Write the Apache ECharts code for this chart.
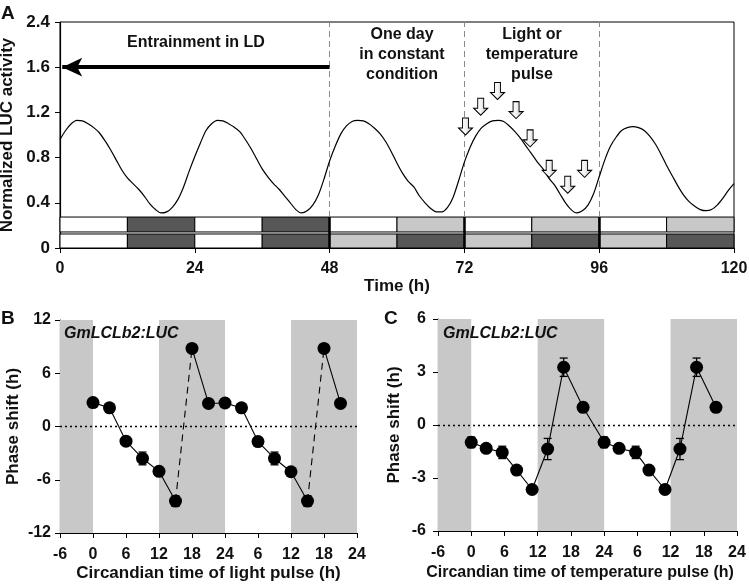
<!DOCTYPE html>
<html><head><meta charset="utf-8">
<script src="https://cdn.jsdelivr.net/npm/echarts@6/dist/echarts.min.js"></script>
<style>html,body{margin:0;padding:0;background:#fff}#c{width:749px;height:588px}</style>
</head><body><div id="c"></div>
<script>
// ---------- Panel A data ----------
const lucA = [
 0.96,1.04,1.10,1.13,1.125,1.10,1.065,1.02,0.95,0.87,0.78,0.69,0.62,0.57,0.52,0.46,0.39,0.34,0.31,0.32,0.36,0.43,0.54,0.68,
 0.81,0.93,1.04,1.10,1.13,1.125,1.10,1.07,1.03,0.96,0.88,0.79,0.70,0.63,0.57,0.52,0.46,0.40,0.34,0.31,0.33,0.38,0.47,0.61,
 0.77,0.90,1.01,1.08,1.12,1.13,1.125,1.10,1.06,1.01,0.94,0.85,0.75,0.66,0.59,0.54,0.46,0.40,0.35,0.32,0.32,0.36,0.45,0.60,
 0.76,0.89,0.99,1.06,1.10,1.125,1.13,1.12,1.08,1.03,0.97,0.90,0.83,0.76,0.70,0.62,0.56,0.48,0.40,0.34,0.31,0.33,0.38,0.48,
 0.63,0.78,0.90,0.98,1.04,1.065,1.075,1.065,1.04,0.99,0.92,0.83,0.73,0.64,0.55,0.47,0.41,0.37,0.34,0.33,0.34,0.38,0.44,0.51,
 0.57
];
const yTickLabelsA = ['0','0.4','0.8','1.2','1.6','2.4'];
const xTickLabelsA = ['0','24','48','72','96','120'];
const segStartsA = [0,12,24,36,48,60,72,84,96,108];
const lightRow = ['white','dark','white','dark','white','light','white','light','white','light'];
const tempRow  = ['white','dark','white','dark','light','dark','light','dark','light','dark'];
const phaseBoundaries = [48,72,96];
const pulseTimes = [72.2,74.9,77.9,81.2,83.7,87.1,90.4,93.4];
const pulseArrowY = [1.075,1.25,1.39,1.22,0.97,0.70,0.56,0.70];
const entrainArrow = {from:48, to:0, level:1.6};

// ---------- Panel B data ----------
const bX   = [0,3,6,9,12,15,18,21,24,27,30,33,36,39,42,45];
const bY   = [2.7,2.1,-1.65,-3.6,-5.05,-8.4,8.8,2.6,2.65,2.1,-1.7,-3.6,-5.1,-8.4,8.8,2.6];
const bErr = [0.2,0.2,0.3,0.72,0.2,0.6,0.2,0.2,0.2,0.2,0.3,0.72,0.2,0.6,0.2,0.2];
const bDashedAfter = [5,13]; // segments drawn dashed: i -> i+1

// ---------- Panel C data ----------
const cX   = [0,2.7,5.6,8.2,11.0,13.8,16.7,20.2,24,26.7,29.7,32.1,35.0,37.7,40.7,44.2];
const cY   = [-0.98,-1.32,-1.55,-2.55,-3.65,-1.36,3.27,1.0,-0.98,-1.32,-1.55,-2.55,-3.65,-1.36,3.27,1.0];
const cErr = [0.3,0.12,0.35,0.12,0.12,0.6,0.52,0.27,0.3,0.12,0.35,0.12,0.12,0.6,0.52,0.27];

const ctTickLabels = ['-6','0','6','12','18','24','6','12','18','24'];
const darkBands = [[-6,0],[12,24],[36,48]];

// ---------- styles ----------
const FONT = '"Liberation Sans", Arial, Helvetica, sans-serif';
const TXT = '#111111';
const COLORS = {white:'#ffffff', dark:'#575757', light:'#c8c8c8'};
const BAND = '#c8c8c8';
const lbl = {fontFamily:FONT, fontWeight:'bold', fontSize:16, color:TXT};

const chart = echarts.init(document.getElementById('c'));

function segs(row, y0, y1){
  return row.map((c,i)=>[segStartsA[i], segStartsA[i]+12, y0, y1, i]);
}
function rectItem(row){
  return function(params, api){
    const p0 = api.coord([api.value(0), api.value(3)]);
    const p1 = api.coord([api.value(1), api.value(2)]);
    return {type:'rect', shape:{x:p0[0], y:p0[1], width:p1[0]-p0[0], height:p1[1]-p0[1]},
      style:{fill:COLORS[row[api.value(4)]], stroke:'#000', lineWidth:1}};
  };
}
function errItem(params, api){
  const x=api.value(0), y=api.value(1), e=api.value(2);
  const top=api.coord([x,y+e]), bot=api.coord([x,y-e]);
  const w=4;
  const st={stroke:'#000', lineWidth:1.3};
  return {type:'group', children:[
    {type:'line', shape:{x1:top[0],y1:top[1],x2:bot[0],y2:bot[1]}, style:st},
    {type:'line', shape:{x1:top[0]-w,y1:top[1],x2:top[0]+w,y2:top[1]}, style:st},
    {type:'line', shape:{x1:bot[0]-w,y1:bot[1],x2:bot[0]+w,y2:bot[1]}, style:st}
  ]};
}
function axisLineStyle(){ return {onZero:false, lineStyle:{color:'#000', width:1.2}}; }
function ctAxes(gi, name, nameGap, nameStyle){
  return {
    gridIndex:gi, type:'value', min:-6, max:48, interval:6,
    axisLine:axisLineStyle(),
    axisTick:{show:true, length:5, lineStyle:{color:'#000'}},
    axisLabel:Object.assign({margin:14, formatter:(v,i)=>ctTickLabels[i]}, lbl),
    splitLine:{show:false},
    name:name, nameLocation:'middle', nameGap:nameGap,
    nameTextStyle:Object.assign({}, lbl, {fontSize:17}, nameStyle||{})
  };
}
function phaseSeries(gi, xs, ys, errs, dashedAfter){
  const out = [];
  out.push({type:'line', xAxisIndex:gi, yAxisIndex:gi, data:[], silent:true, z:1,
    markArea:{silent:true, itemStyle:{color:BAND}, data:darkBands.map(b=>[{xAxis:b[0]},{xAxis:b[1]}])},
    markLine:{silent:true, symbol:'none', label:{show:false}, lineStyle:{color:'#000', type:[2,3], width:1.3},
      data:[{yAxis:0}]}
  });
  for(let i=0;i<xs.length-1;i++){
    const dashed = dashedAfter.indexOf(i)>=0;
    out.push({type:'line', xAxisIndex:gi, yAxisIndex:gi, symbol:'none', z:3,
      lineStyle:{color:'#000', width:1.1, type: dashed?[7,5]:'solid'},
      data:[[xs[i],ys[i]],[xs[i+1],ys[i+1]]]});
  }
  out.push({type:'custom', xAxisIndex:gi, yAxisIndex:gi, z:4, renderItem:errItem,
    data:xs.map((x,i)=>[x,ys[i],errs[i]])});
  out.push({type:'scatter', xAxisIndex:gi, yAxisIndex:gi, z:5, symbol:'circle', symbolSize:13,
    itemStyle:{color:'#000', opacity:1}, data:xs.map((x,i)=>[x,ys[i]])});
  return out;
}

const series = [
  {type:'custom', xAxisIndex:0, yAxisIndex:0, z:2, renderItem:rectItem(lightRow), data:segs(lightRow,0.142,0.274)},
  {type:'custom', xAxisIndex:0, yAxisIndex:0, z:2, renderItem:rectItem(tempRow), data:segs(tempRow,0,0.124),
    markLine:{silent:true, symbol:'none', label:{show:false}, z:3,
      data: phaseBoundaries.map(t=>[{coord:[t,0], lineStyle:{color:'#000', width:2.5, type:'solid'}},{coord:[t,0.274]}])
        .concat(phaseBoundaries.map(t=>[{coord:[t,0.274], lineStyle:{color:'#8a8a8a', width:1, type:[6,4]}},{coord:[t,2.0]}]))
    }},
  {type:'line', xAxisIndex:0, yAxisIndex:0, z:4, smooth:0.3, symbol:'none',
    lineStyle:{color:'#000', width:1.2},
    data:lucA.map((v,i)=>[i,v]),
    markLine:{silent:true, symbol:['none','arrow'], symbolSize:[14,20], label:{show:false},
      lineStyle:{color:'#000', width:4, type:'solid'},
      data:[[{coord:[entrainArrow.from,entrainArrow.level]},{coord:[entrainArrow.to+0.4,entrainArrow.level]}]]}
  },
  {type:'scatter', xAxisIndex:0, yAxisIndex:0, z:6,
    symbol:'path://M4,0L10,0L10,10L14,10L7,17L0,10L4,10Z', symbolSize:[14,17],
    itemStyle:{opacity:1, color:new echarts.graphic.LinearGradient(0,0,1,0,[{offset:0,color:'#ffffff'},{offset:0.5,color:'#f4f4f4'},{offset:1,color:'#b8b8b8'}]),
      borderColor:'#000', borderWidth:1},
    data:pulseTimes.map((t,i)=>[t,pulseArrowY[i]])}
].concat(phaseSeries(1,bX,bY,bErr,bDashedAfter)).concat(phaseSeries(2,cX,cY,cErr,[]));

const option = {
  backgroundColor:'#fff',
  animation:false,
  grid:[
    {left:60, top:22, width:674, height:226, show:true, borderColor:'#000', borderWidth:1, backgroundColor:'transparent', outerBoundsMode:'none', containLabel:false},
    {left:60, top:320, width:297, height:213, outerBoundsMode:'none', containLabel:false},
    {left:438, top:319, width:299, height:212, outerBoundsMode:'none', containLabel:false}
  ],
  xAxis:[
    {gridIndex:0, type:'value', min:0, max:120, interval:24,
      axisLine:axisLineStyle(),
      axisTick:{show:true, length:5, lineStyle:{color:'#000'}},
      axisLabel:Object.assign({margin:13, formatter:(v,i)=>xTickLabelsA[i]}, lbl),
      splitLine:{show:false},
      name:'Time (h)', nameLocation:'middle', nameGap:23, nameTextStyle:Object.assign({}, lbl, {fontSize:17})},
    ctAxes(1,'Circandian time of light pulse (h)',32),
    ctAxes(2,'Circandian time of temperature pulse (h)',34,{fontSize:16, padding:[0,15,0,0]})
  ],
  yAxis:[
    {gridIndex:0, type:'value', min:0, max:2.0, interval:0.4,
      axisLine:axisLineStyle(),
      axisTick:{show:true, length:5, lineStyle:{color:'#000'}},
      axisLabel:Object.assign({}, lbl, {margin:10, fontSize:17, formatter:(v,i)=>yTickLabelsA[i]}),
      splitLine:{show:false},
      name:'Normalized LUC activity', nameLocation:'middle', nameGap:39, nameTextStyle:Object.assign({}, lbl, {fontSize:17})},
    {gridIndex:1, type:'value', min:-12, max:12, interval:6,
      axisLine:axisLineStyle(),
      axisTick:{show:true, length:5, lineStyle:{color:'#000'}},
      axisLabel:Object.assign({margin:9}, lbl),
      splitLine:{show:false},
      name:'Phase shift (h)', nameLocation:'middle', nameGap:38, nameTextStyle:Object.assign({}, lbl, {fontSize:17})},
    {gridIndex:2, type:'value', min:-6, max:6, interval:3,
      axisLine:axisLineStyle(),
      axisTick:{show:true, length:5, lineStyle:{color:'#000'}},
      axisLabel:Object.assign({margin:12}, lbl),
      splitLine:{show:false},
      name:'Phase shift (h)', nameLocation:'middle', nameGap:35, nameTextStyle:Object.assign({}, lbl, {fontSize:17})}
  ],
  graphic:[
    {type:'text', z:100, left:1, top:4, style:{text:'A', font:'bold 19px '+FONT, fill:TXT}},
    {type:'text', z:100, left:1, top:309, style:{text:'B', font:'bold 19px '+FONT, fill:TXT}},
    {type:'text', z:100, left:384, top:309, style:{text:'C', font:'bold 19px '+FONT, fill:TXT}},
    {type:'text', z:100, x:196, y:43, style:{text:'Entrainment in LD', font:'bold 16px '+FONT, fill:TXT, align:'center', verticalAlign:'middle'}},
    {type:'text', z:100, x:402, y:55, style:{text:'One day\nin constant\ncondition', font:'bold 16px '+FONT, fill:TXT, align:'center', verticalAlign:'middle', lineHeight:20}},
    {type:'text', z:100, x:532, y:55, style:{text:'Light or\ntemperature\npulse', font:'bold 16px '+FONT, fill:TXT, align:'center', verticalAlign:'middle', lineHeight:20}},
    {type:'text', z:100, x:64, y:334, style:{text:'GmLCLb2:LUC', font:'italic bold 16px '+FONT, fill:TXT, verticalAlign:'middle'}},
    {type:'text', z:100, x:443, y:334, style:{text:'GmLCLb2:LUC', font:'italic bold 16px '+FONT, fill:TXT, verticalAlign:'middle'}}
  ],
  series: series
};
chart.setOption(option);
</script>
</body></html>
